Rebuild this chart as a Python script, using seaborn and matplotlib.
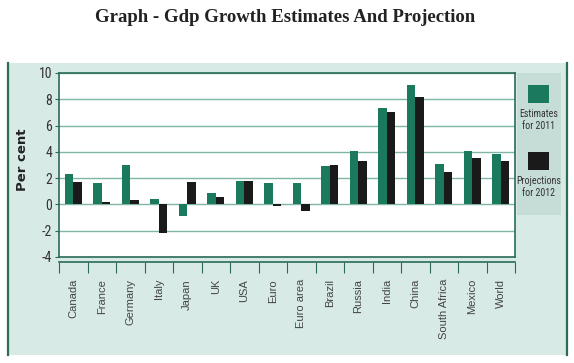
import pandas as pd
import seaborn as sns
import matplotlib.pyplot as plt
from matplotlib.patches import Rectangle
from matplotlib.lines import Line2D

countries = ["Canada", "France", "Germany", "Italy", "Japan", "UK", "USA", "Euro",
             "Euro area", "Brazil", "Russia", "India", "China", "South Africa",
             "Mexico", "World"]
estimates_2011 = [2.3, 1.6, 3.0, 0.4, -0.9, 0.9, 1.8, 1.6, 1.6, 2.9, 4.1, 7.3, 9.1, 3.1, 4.1, 3.8]
projections_2012 = [1.7, 0.2, 0.3, -2.2, 1.7, 0.6, 1.8, -0.15, -0.5, 3.0, 3.3, 7.0, 8.2, 2.5, 3.5, 3.3]
series_names = ["Estimates\nfor 2011", "Projections\nfor 2012"]
y_ticks = [-4, -2, 0, 2, 4, 6, 8, 10]

GREEN = "#1b7a5e"
BLACK = "#1a1a1a"
FRAME = "#2b6b58"
GRID = "#7fb6a6"
PANEL = "#d8eae6"
LEGBOX = "#c6ddd7"
NARROW = ["Roboto Condensed", "Liberation Sans"]

df = pd.concat([
    pd.DataFrame({"country": countries, "value": estimates_2011, "series": series_names[0]}),
    pd.DataFrame({"country": countries, "value": projections_2012, "series": series_names[1]}),
])

W, H = 574, 363
fig = plt.figure(figsize=(W / 100, H / 100), dpi=100)
fig.patch.set_facecolor("white")


def fx(px):
    return px / W


def fy(py):
    return 1 - py / H


# background panel
fig.patches.append(Rectangle((fx(7), fy(355)), fx(567) - fx(7), fy(63) - fy(355),
                             transform=fig.transFigure, facecolor=PANEL, edgecolor="none", zorder=-3))
for xb in (7.5, 567):
    fig.lines.append(Line2D([fx(xb), fx(xb)], [fy(63), fy(355)], transform=fig.transFigure,
                            color=FRAME, lw=1.6, zorder=-2))

ax = fig.add_axes([fx(59), fy(257), fx(515) - fx(59), fy(73) - fy(257)])
ax.set_facecolor("white")

sns.barplot(data=df, x="country", y="value", hue="series", palette=[GREEN, BLACK],
            width=0.58, saturation=1, ax=ax, legend=False, errorbar=None, zorder=3)

ax.set_ylim(-4, 10)
ax.set_xlim(-0.5, len(countries) - 0.5)
ax.set_yticks(y_ticks)
ax.set_yticklabels([str(t) for t in y_ticks], fontsize=10, color="#333333", family=NARROW)
ax.yaxis.grid(True, color=GRID, lw=1)
ax.set_axisbelow(True)
ax.tick_params(axis="y", length=3, color=FRAME, pad=2)
ax.set_xlabel("")
ax.set_ylabel("")

for s in ax.spines.values():
    s.set_color(FRAME)
    s.set_linewidth(1.2)
ax.spines["bottom"].set_position(("outward", 3.8))
ax.axhline(-4, color=FRAME, lw=1.2, clip_on=False, zorder=4)

ax.set_xticks(range(len(countries)))
ax.set_xticklabels(countries, rotation=90, fontsize=8, color="#444444", family="Liberation Sans")
ax.set_xticks([i - 0.5 for i in range(len(countries) + 1)], minor=True)
ax.tick_params(axis="x", which="major", length=0, pad=12)
ax.tick_params(axis="x", which="minor", length=8, color=FRAME, width=0.8)

# legend panel
fig.patches.append(Rectangle((fx(517), fy(215)), fx(561) - fx(517), fy(73) - fy(215),
                             transform=fig.transFigure, facecolor=LEGBOX, edgecolor="none", zorder=-1))
for col, top in ((GREEN, 85), (BLACK, 152)):
    fig.patches.append(Rectangle((fx(528), fy(top + 18)), fx(549) - fx(528), fy(top) - fy(top + 18),
                                 transform=fig.transFigure, facecolor=col, edgecolor="none", zorder=1))
for name, ty in zip(series_names, (109, 176)):
    fig.text(fx(539), fy(ty), name, ha="center", va="top", fontsize=7.2, color="#333333",
             family=NARROW, linespacing=1.3)

fig.text(fx(22), fy(160), "Per cent", rotation=90, ha="center", va="center",
         fontsize=9.5, fontweight="bold", color="#222222")

fig.text(fx(285), fy(17), "Graph - Gdp Growth Estimates And Projection", ha="center", va="center",
         fontsize=13.5, fontweight="bold", family="Liberation Serif", color="#222222")

fig.savefig("out.png", dpi=100)
